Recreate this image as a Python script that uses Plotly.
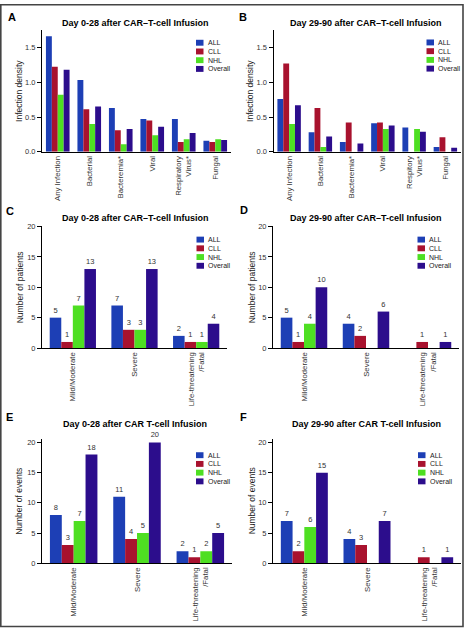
import plotly.graph_objects as go

W, H = 466, 633
FONT = "Liberation Sans, Arial, Helvetica, sans-serif"

series_names = ["ALL", "CLL", "NHL", "Overall"]
series_colors = ["#1D3FB5", "#A8122E", "#4EDF22", "#2C0D8C"]

# ---- Infection density (A, B) ----
inf_categories_a = ["Any Infection", "Bacterial", "Bacteremia*", "Viral", "Respiratory<br>Virus*", "Fungal"]
inf_categories_b = ["Any Infection", "Bacterial", "Bacteremia*", "Viral", "Respitory<br>Virus*", "Fungal"]

a_all = [1.66, 1.03, 0.63, 0.47, 0.47, 0.16]
a_cll = [1.22, 0.61, 0.31, 0.45, 0.14, 0.14]
a_nhl = [0.82, 0.40, 0.11, 0.24, 0.18, 0.18]
a_overall = [1.18, 0.65, 0.33, 0.36, 0.27, 0.17]

b_all = [0.76, 0.28, 0.14, 0.41, 0.35, 0.07]
b_cll = [1.27, 0.63, 0.42, 0.42, 0.0, 0.21]
b_nhl = [0.40, 0.07, 0.0, 0.33, 0.33, 0.0]
b_overall = [0.67, 0.22, 0.12, 0.38, 0.29, 0.06]

# ---- Severity (C-F) ----
sev_categories = ["Mild/Moderate", "Severe", "Life-threatening<br>/Fatal"]

c_all = [5, 7, 2]
c_cll = [1, 3, 1]
c_nhl = [7, 3, 1]
c_overall = [13, 13, 4]

d_all = [5, 4, 0]
d_cll = [1, 2, 1]
d_nhl = [4, 0, 0]
d_overall = [10, 6, 1]

e_all = [8, 11, 2]
e_cll = [3, 4, 1]
e_nhl = [7, 5, 2]
e_overall = [18, 20, 5]

f_all = [7, 4, 0]
f_cll = [2, 3, 1]
f_nhl = [6, 0, 0]
f_overall = [15, 7, 1]

inf_tickvals = [0, 0.5, 1.0, 1.5]
inf_ticktext = ["0.0", "0.5", "1.0", "1.5"]
sev_tickvals = [0, 5, 10, 15, 20]
sev_ticktext = ["0", "5", "10", "15", "20"]


def fx(px):
    return px / W


def fy(py):
    return 1 - py / H


panels = [
    dict(letter="A", title="Day 0-28 after CAR\u2013T-cell Infusion", ytitle="Infection density",
         cats=inf_categories_a, vals=[a_all, a_cll, a_nhl, a_overall], yrange=[0, 1.75],
         tv=inf_tickvals, tt=inf_ticktext, labels=False,
         xd=(42, 231), yd=(26.3, 150), letter_xy=(6, 13), title_xy=(135, 19), ytitle_x=19,
         leg=(196, 206, 39.3)),
    dict(letter="B", title="Day 29-90 after CAR\u2013T-cell Infusion", ytitle="Infection density",
         cats=inf_categories_b, vals=[b_all, b_cll, b_nhl, b_overall], yrange=[0, 1.75],
         tv=inf_tickvals, tt=inf_ticktext, labels=False,
         xd=(273.5, 461), yd=(26.3, 150), letter_xy=(237, 13), title_xy=(366, 19), ytitle_x=250,
         leg=(426.5, 435.5, 39)),
    dict(letter="C", title="Day 0-28 after CAR\u2013T-cell Infusion", ytitle="Number of patients",
         cats=sev_categories, vals=[c_all, c_cll, c_nhl, c_overall], yrange=[0, 20],
         tv=sev_tickvals, tt=sev_ticktext, labels=True,
         xd=(42, 227), yd=(225.7, 349), letter_xy=(4, 210), title_xy=(135, 217), ytitle_x=20,
         leg=(196.5, 206, 239)),
    dict(letter="D", title="Day 29-90 after CAR\u2013T-cell Infusion", ytitle="Number of patients",
         cats=sev_categories, vals=[d_all, d_cll, d_nhl, d_overall], yrange=[0, 20],
         tv=sev_tickvals, tt=sev_ticktext, labels=True,
         xd=(273, 459), yd=(225.7, 349), letter_xy=(238, 209), title_xy=(366, 217), ytitle_x=252,
         leg=(417.5, 427, 239)),
    dict(letter="E", title="Day 0-28 after CAR T-cell Infusion", ytitle="Number of events",
         cats=sev_categories, vals=[e_all, e_cll, e_nhl, e_overall], yrange=[0, 20.5],
         tv=sev_tickvals, tt=sev_ticktext, labels=True,
         xd=(42, 232), yd=(441.7, 567.3), letter_xy=(4, 419), title_xy=(135, 426), ytitle_x=19.5,
         leg=(196, 206, 457.7)),
    dict(letter="F", title="Day 29-90 after CAR T-cell Infusion", ytitle="Number of events",
         cats=sev_categories, vals=[f_all, f_cll, f_nhl, f_overall], yrange=[0, 20.5],
         tv=sev_tickvals, tt=sev_ticktext, labels=True,
         xd=(273, 461), yd=(441.7, 567.3), letter_xy=(238, 419), title_xy=(366, 426), ytitle_x=252,
         leg=(418, 427.5, 457.7)),
]

fig = go.Figure()
layout = dict(
    width=W, height=H, margin=dict(l=0, r=0, t=0, b=0),
    paper_bgcolor="white", plot_bgcolor="white",
    barmode="group", bargap=0.25, bargroupgap=0,
    showlegend=False, font=dict(family=FONT, color="#222"),
)
annotations = []
shapes = []

for i, p in enumerate(panels):
    n = i + 1
    xa = "x" if n == 1 else f"x{n}"
    ya = "y" if n == 1 else f"y{n}"
    for name, color, vals in zip(series_names, series_colors, p["vals"]):
        kw = {}
        if p["labels"]:
            kw = dict(text=[str(v) if v else "" for v in vals], textposition="outside",
                      textfont=dict(size=7.5, color="#333", family=FONT), cliponaxis=False,
                      constraintext="none")
        fig.add_trace(go.Bar(x=p["cats"], y=vals, name=name, marker=dict(color=color, line=dict(width=0)),
                             xaxis=xa, yaxis=ya, hoverinfo="skip", **kw))
    layout[f"xaxis{'' if n == 1 else n}"] = dict(
        domain=[fx(p["xd"][0]), fx(p["xd"][1])], anchor=ya, type="category",
        showline=True, linecolor="black", linewidth=1, ticks="", tickangle=-90,
        tickfont=dict(size=7.8, color="#333", family=FONT), showgrid=False, zeroline=False, fixedrange=True)
    layout[f"yaxis{'' if n == 1 else n}"] = dict(
        domain=[fy(p["yd"][1]), fy(p["yd"][0])], anchor=xa, range=p["yrange"],
        showline=True, linecolor="black", linewidth=1, ticks="outside", ticklen=4, tickwidth=1,
        tickcolor="black", tickvals=p["tv"], ticktext=p["tt"],
        tickfont=dict(size=7.5, color="#333", family=FONT), showgrid=False, zeroline=False, fixedrange=True)

    annotations.append(dict(text=f"<b>{p['letter']}</b>", x=fx(p["letter_xy"][0]), y=fy(p["letter_xy"][1]),
                            xref="paper", yref="paper", xanchor="left", yanchor="middle", showarrow=False,
                            font=dict(size=11, color="black", family=FONT)))
    annotations.append(dict(text=f"<b>{p['title']}</b>", x=fx(p["title_xy"][0]), y=fy(p["title_xy"][1]),
                            xref="paper", yref="paper", xanchor="center", yanchor="middle", showarrow=False,
                            font=dict(size=9, color="black", family=FONT)))
    annotations.append(dict(text=p["ytitle"], x=fx(p["ytitle_x"]), y=fy((p["yd"][0] + p["yd"][1]) / 2),
                            xref="paper", yref="paper", xanchor="center", yanchor="middle", showarrow=False,
                            textangle=-90, font=dict(size=8.5, color="#222", family=FONT)))
    sx, tx, ry = p["leg"]
    for k, (name, color) in enumerate(zip(series_names, series_colors)):
        yy = ry + k * 8.85
        shapes.append(dict(type="rect", xref="paper", yref="paper", x0=fx(sx), x1=fx(sx + 7.5),
                           y0=fy(yy + 3), y1=fy(yy - 3), fillcolor=color, line=dict(width=0)))
        annotations.append(dict(text=name, x=fx(tx), y=fy(yy), xref="paper", yref="paper",
                                xanchor="left", yanchor="middle", showarrow=False,
                                font=dict(size=7, color="#222", family=FONT)))

shapes.append(dict(type="rect", xref="paper", yref="paper", x0=fx(0.8), x1=fx(463), y0=fy(631.5), y1=fy(0.8),
                   line=dict(color="#444", width=1.6), fillcolor="rgba(0,0,0,0)"))

layout["annotations"] = annotations
layout["shapes"] = shapes
fig.update_layout(**layout)
fig.write_html("out.html", config={"displayModeBar": False, "staticPlot": True},
               post_script="document.body.style.margin='0';document.body.style.overflow='hidden';")
